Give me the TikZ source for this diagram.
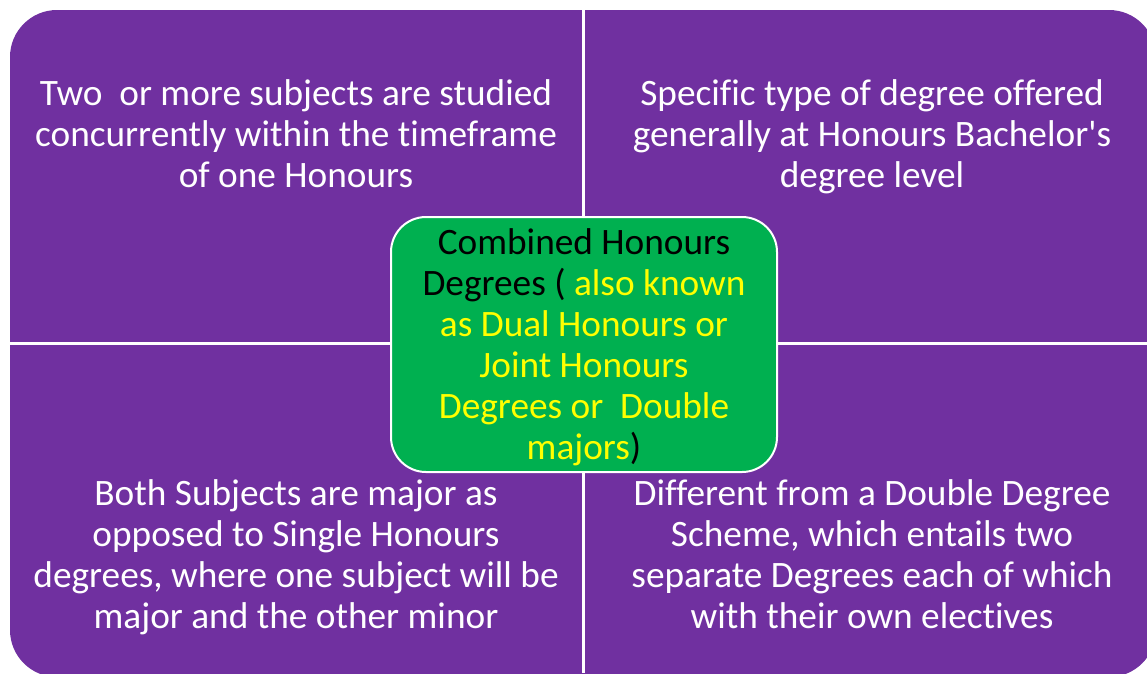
\documentclass[tikz,border=0pt]{standalone}
\usepackage{fontspec}
\setmainfont{Carlito}[Ligatures={NoCommon}]
\usepackage{tikz}

\definecolor{quadpurple}{HTML}{7030A0}
\definecolor{centregreen}{HTML}{00B050}
\definecolor{knownyellow}{HTML}{FFFF00}

\begin{document}
\begin{tikzpicture}[x=1pt, y=-1pt,
    quadtext/.style={anchor=north, inner sep=0pt, align=center, text=white,
      font=\fontsize{37.3}{41}\selectfont},
    centrebox/.style={draw=white, line width=2pt, fill=centregreen,
      rounded corners=35pt, minimum width=386pt, minimum height=255pt,
      inner sep=0pt, align=center, text=black,
      font=\fontsize{37.3}{41}\selectfont}]
    \useasboundingbox (0,0) rectangle (1147,673);
    \clip (0,0) rectangle (1147,673);
    % purple matrix, split in four by white lines
    \fill[quadpurple, rounded corners=47pt] (10,10) rectangle (1156,677);
    \draw[white, line width=3pt] (583.5,0) -- (583.5,673);
    \draw[white, line width=3pt] (0,343.5) -- (1147,343.5);
    % top quadrants
    \node[quadtext] (tl) at (296,76.3) {\strut Two\ \ or more subjects are studied\\
      concurrently within the timeframe\\of one Honours};
    \node[quadtext] (tr) at (872,76.3) {\strut Specific type of degree offered\\
      generally at Honours Bachelor\textquotesingle s\\degree level};
    % bottom quadrants
    \node[quadtext] (bl) at (296,476.3) {\strut Both Subjects are major as\\
      opposed to Single Honours\\degrees, where one subject will be\\
      major and the other minor};
    \node[quadtext] (br) at (872,476.3) {\strut Different from a Double Degree\\
      Scheme, which entails two\\separate Degrees each of which\\
      with their own electives};
    % centre box
    \node[centrebox] (centre) at (584,344.5) {\rule{0pt}{36.7pt}Combined Honours\\
      Degrees ( \textcolor{knownyellow}{also known}\\
      \textcolor{knownyellow}{as Dual Honours or}\\
      \textcolor{knownyellow}{Joint Honours}\\
      \textcolor{knownyellow}{Degrees or\ \ Double}\\
      \textcolor{knownyellow}{majors})\strut};
\end{tikzpicture}
\end{document}
